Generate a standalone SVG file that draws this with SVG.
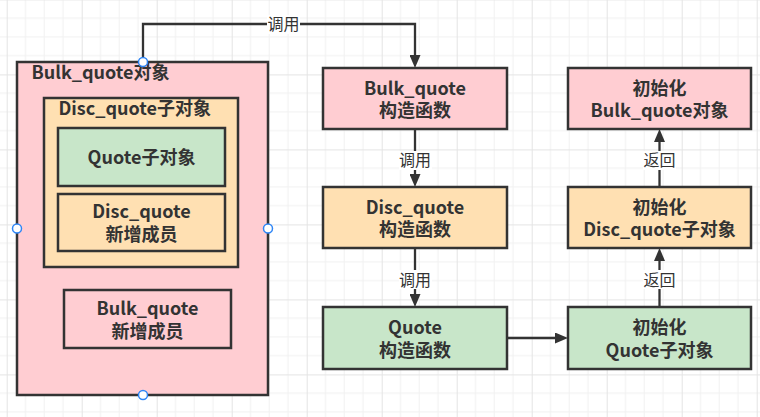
<svg xmlns="http://www.w3.org/2000/svg" width="760" height="417" viewBox="0 0 760 417">
<style>
.box{stroke:#333333;stroke-width:2.5}
.pink{fill:#ffcdd2}
.orange{fill:#ffe0b2}
.green{fill:#c8e6c9}
.t{font-family:"Noto Sans CJK SC","Liberation Sans",sans-serif;font-size:18px;font-weight:bold;fill:#333333}
.c{text-anchor:middle}
.lbl{font-family:"Noto Sans CJK SC","Liberation Sans",sans-serif;font-size:16px;fill:#333333;text-anchor:middle}
.edge{fill:none;stroke:#333333;stroke-width:2.3}
.lblbg{fill:#ffffff}
.handle{fill:#ffffff;stroke:#2f86f6;stroke-width:1.5}
</style>
<defs>
<pattern id="grid" width="75" height="75" patternUnits="userSpaceOnUse" x="6.7" y="-0.6">
<rect width="75" height="75" fill="#ffffff"/>
<path d="M18.75 0V75M37.5 0V75M56.25 0V75M0 18.75H75M0 37.5H75M0 56.25H75" stroke="#f1f1f1" stroke-width="1"/>
<path d="M0.5 0V75M0 0.5H75" stroke="#e4e4e4" stroke-width="1"/>
</pattern>
<marker id="arr" markerUnits="userSpaceOnUse" markerWidth="14" markerHeight="11" refX="0" refY="5.5" orient="auto">
<path d="M0,0 L13,5.5 L0,11 z" fill="#333333"/>
</marker>
</defs>
<rect width="760" height="417" fill="url(#grid)"/>

<g id="bulk_obj">
<rect class="box pink" x="17" y="62" width="251" height="333"/>
<text class="t" x="31.5" y="79">Bulk_quote对象</text>
</g>
<g id="disc_obj">
<rect class="box orange" x="44" y="98" width="194" height="169"/>
<text class="t" x="58.5" y="115">Disc_quote子对象</text>
</g>
<g id="quote_sub">
<rect class="box green" x="58" y="128" width="167" height="58"/>
<text class="t c" x="141.5" y="164">Quote子对象</text>
</g>
<g id="disc_members">
<rect class="box orange" x="58" y="194" width="167" height="57"/>
<text class="t c"><tspan x="141.5" y="217.5">Disc_quote</tspan><tspan x="141.5" y="240.5">新增成员</tspan></text>
</g>
<g id="bulk_members">
<rect class="box pink" x="64" y="290" width="167" height="58"/>
<text class="t c"><tspan x="147.5" y="314.5">Bulk_quote</tspan><tspan x="147.5" y="337.5">新增成员</tspan></text>
</g>

<g id="bulk_ctor">
<rect class="box pink" x="323" y="68" width="184" height="61"/>
<text class="t c"><tspan x="415" y="94.5">Bulk_quote</tspan><tspan x="415" y="117">构造函数</tspan></text>
</g>
<g id="bulk_init">
<rect class="box pink" x="568" y="68" width="183" height="61"/>
<text class="t c"><tspan x="659.5" y="94.5">初始化</tspan><tspan x="659.5" y="117">Bulk_quote对象</tspan></text>
</g>
<g id="disc_ctor">
<rect class="box orange" x="323" y="187" width="184" height="61"/>
<text class="t c"><tspan x="415" y="213.5">Disc_quote</tspan><tspan x="415" y="236">构造函数</tspan></text>
</g>
<g id="disc_init">
<rect class="box orange" x="568" y="187" width="183" height="61"/>
<text class="t c"><tspan x="659.5" y="213.5">初始化</tspan><tspan x="659.5" y="236">Disc_quote子对象</tspan></text>
</g>
<g id="quote_ctor">
<rect class="box green" x="323" y="307" width="184" height="62"/>
<text class="t c"><tspan x="415" y="334">Quote</tspan><tspan x="415" y="356.5">构造函数</tspan></text>
</g>
<g id="quote_init">
<rect class="box green" x="568" y="307" width="183" height="62"/>
<text class="t c"><tspan x="659.5" y="334">初始化</tspan><tspan x="659.5" y="356.5">Quote子对象</tspan></text>
</g>

<g id="connectors">
<path class="edge" d="M143 62V24H415V55" marker-end="url(#arr)"/>
<path class="edge" d="M415 129V174" marker-end="url(#arr)"/>
<path class="edge" d="M415 248V294" marker-end="url(#arr)"/>
<path class="edge" d="M507 338H555" marker-end="url(#arr)"/>
<path class="edge" d="M659.5 307V261" marker-end="url(#arr)"/>
<path class="edge" d="M659.5 187V142" marker-end="url(#arr)"/>
<rect class="lblbg" x="267" y="15" width="33" height="19"/>
<text class="lbl" x="283.5" y="30">调用</text>
<rect class="lblbg" x="399" y="151" width="33" height="19"/>
<text class="lbl" x="415" y="166">调用</text>
<rect class="lblbg" x="399" y="270" width="33" height="19"/>
<text class="lbl" x="415" y="285.5">调用</text>
<rect class="lblbg" x="643" y="151" width="33" height="19"/>
<text class="lbl" x="659.5" y="166">返回</text>
<rect class="lblbg" x="643" y="270" width="33" height="19"/>
<text class="lbl" x="659.5" y="285.5">返回</text>
</g>

<g id="handles">
<circle class="handle" cx="143" cy="62" r="4.5"/>
<circle class="handle" cx="143" cy="395" r="4.5"/>
<circle class="handle" cx="17" cy="228.5" r="4.5"/>
<circle class="handle" cx="268" cy="228.5" r="4.5"/>
</g>
</svg>
